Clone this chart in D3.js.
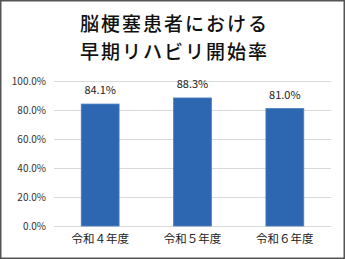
<!DOCTYPE html>
<html>
<head>
<meta charset="utf-8">
<script src="https://cdn.jsdelivr.net/npm/d3@7"></script>
<style>
  body { margin: 0; background: #fff; }
  svg { display: block; }
  text { font-family: "Noto Sans CJK JP", "Noto Sans", sans-serif; }
</style>
</head>
<body>
<div id="chart"></div>
<script>
// chart data
const titleLines = ["脳梗塞患者における", "早期リハビリ開始率"];
const categories = ["令和４年度", "令和５年度", "令和６年度"];
const rates = [84.1, 88.3, 81.0];
const yTicks = [0, 20, 40, 60, 80, 100];

const W = 345, H = 259;
const margin = {top: 81, right: 14, bottom: 33, left: 54};
const w = W - margin.left - margin.right,
      h = H - margin.top - margin.bottom;

const svg = d3.select("#chart").append("svg")
    .attr("width", W)
    .attr("height", H);

// outer frame
svg.append("rect")
    .attr("x", 0.75).attr("y", 0.75)
    .attr("width", W - 1.5).attr("height", H - 1.5)
    .attr("fill", "#fff")
    .attr("stroke", "#555")
    .attr("stroke-width", 1.5);

// title (letter-spacing keeps line width while the line boxes stay apart)
svg.append("g").selectAll("text")
    .data(titleLines)
  .enter().append("text")
    .attr("x", W / 2 + 2)
    .attr("y", (d, i) => 22.5 + i * 28)
    .attr("text-anchor", "middle")
    .attr("dominant-baseline", "central")
    .attr("font-size", 19)
    .attr("font-weight", 500)
    .attr("letter-spacing", 2)
    .attr("fill", "#111")
    .text(d => d);

const g = svg.append("g")
    .attr("transform", "translate(" + margin.left + "," + margin.top + ")");

const x = d3.scaleBand()
    .domain(categories)
    .range([0, w])
    .paddingInner(0.59)
    .paddingOuter(0.295);

const y = d3.scaleLinear()
    .domain([0, 100])
    .range([h, 0]);

// gridlines
g.append("g").selectAll("line")
    .data(yTicks)
  .enter().append("line")
    .attr("x1", 0).attr("x2", w)
    .attr("y1", d => Math.round(y(d)) + 0.5)
    .attr("y2", d => Math.round(y(d)) + 0.5)
    .attr("stroke", "#d9d9d9")
    .attr("stroke-width", 1);

// y axis labels
const yAxis = d3.axisLeft(y)
    .tickValues(yTicks)
    .tickSize(0)
    .tickPadding(8)
    .tickFormat(d => d.toFixed(1) + "%");
g.append("g").call(yAxis)
    .call(s => s.select(".domain").remove())
    .selectAll("text")
    .attr("font-size", 10)
    .attr("fill", "#333")
    .style("font-family", "'Noto Sans CJK JP', sans-serif");

// bars
g.append("g").selectAll("rect")
    .data(rates)
  .enter().append("rect")
    .attr("x", (d, i) => x(categories[i]))
    .attr("y", d => y(d))
    .attr("width", x.bandwidth())
    .attr("height", d => h - y(d))
    .attr("fill", "#2e67b1")
    .attr("stroke", "#4a7fc2")
    .attr("stroke-width", 0.8);

// value labels
g.append("g").selectAll("text")
    .data(rates)
  .enter().append("text")
    .attr("x", (d, i) => x(categories[i]) + x.bandwidth() / 2)
    .attr("y", d => y(d) - 15)
    .attr("text-anchor", "middle")
    .attr("dominant-baseline", "central")
    .attr("font-size", 11)
    .attr("fill", "#222")
    .text(d => d.toFixed(1) + "%");

// x axis labels
const xAxis = d3.axisBottom(x).tickSize(0).tickPadding(9);
g.append("g")
    .attr("transform", "translate(0," + h + ")")
    .call(xAxis)
    .call(s => s.select(".domain").remove())
    .selectAll("text")
    .attr("font-size", 11.5)
    .attr("fill", "#222")
    .style("font-family", "'Noto Sans CJK JP', sans-serif");
</script>
</body>
</html>
